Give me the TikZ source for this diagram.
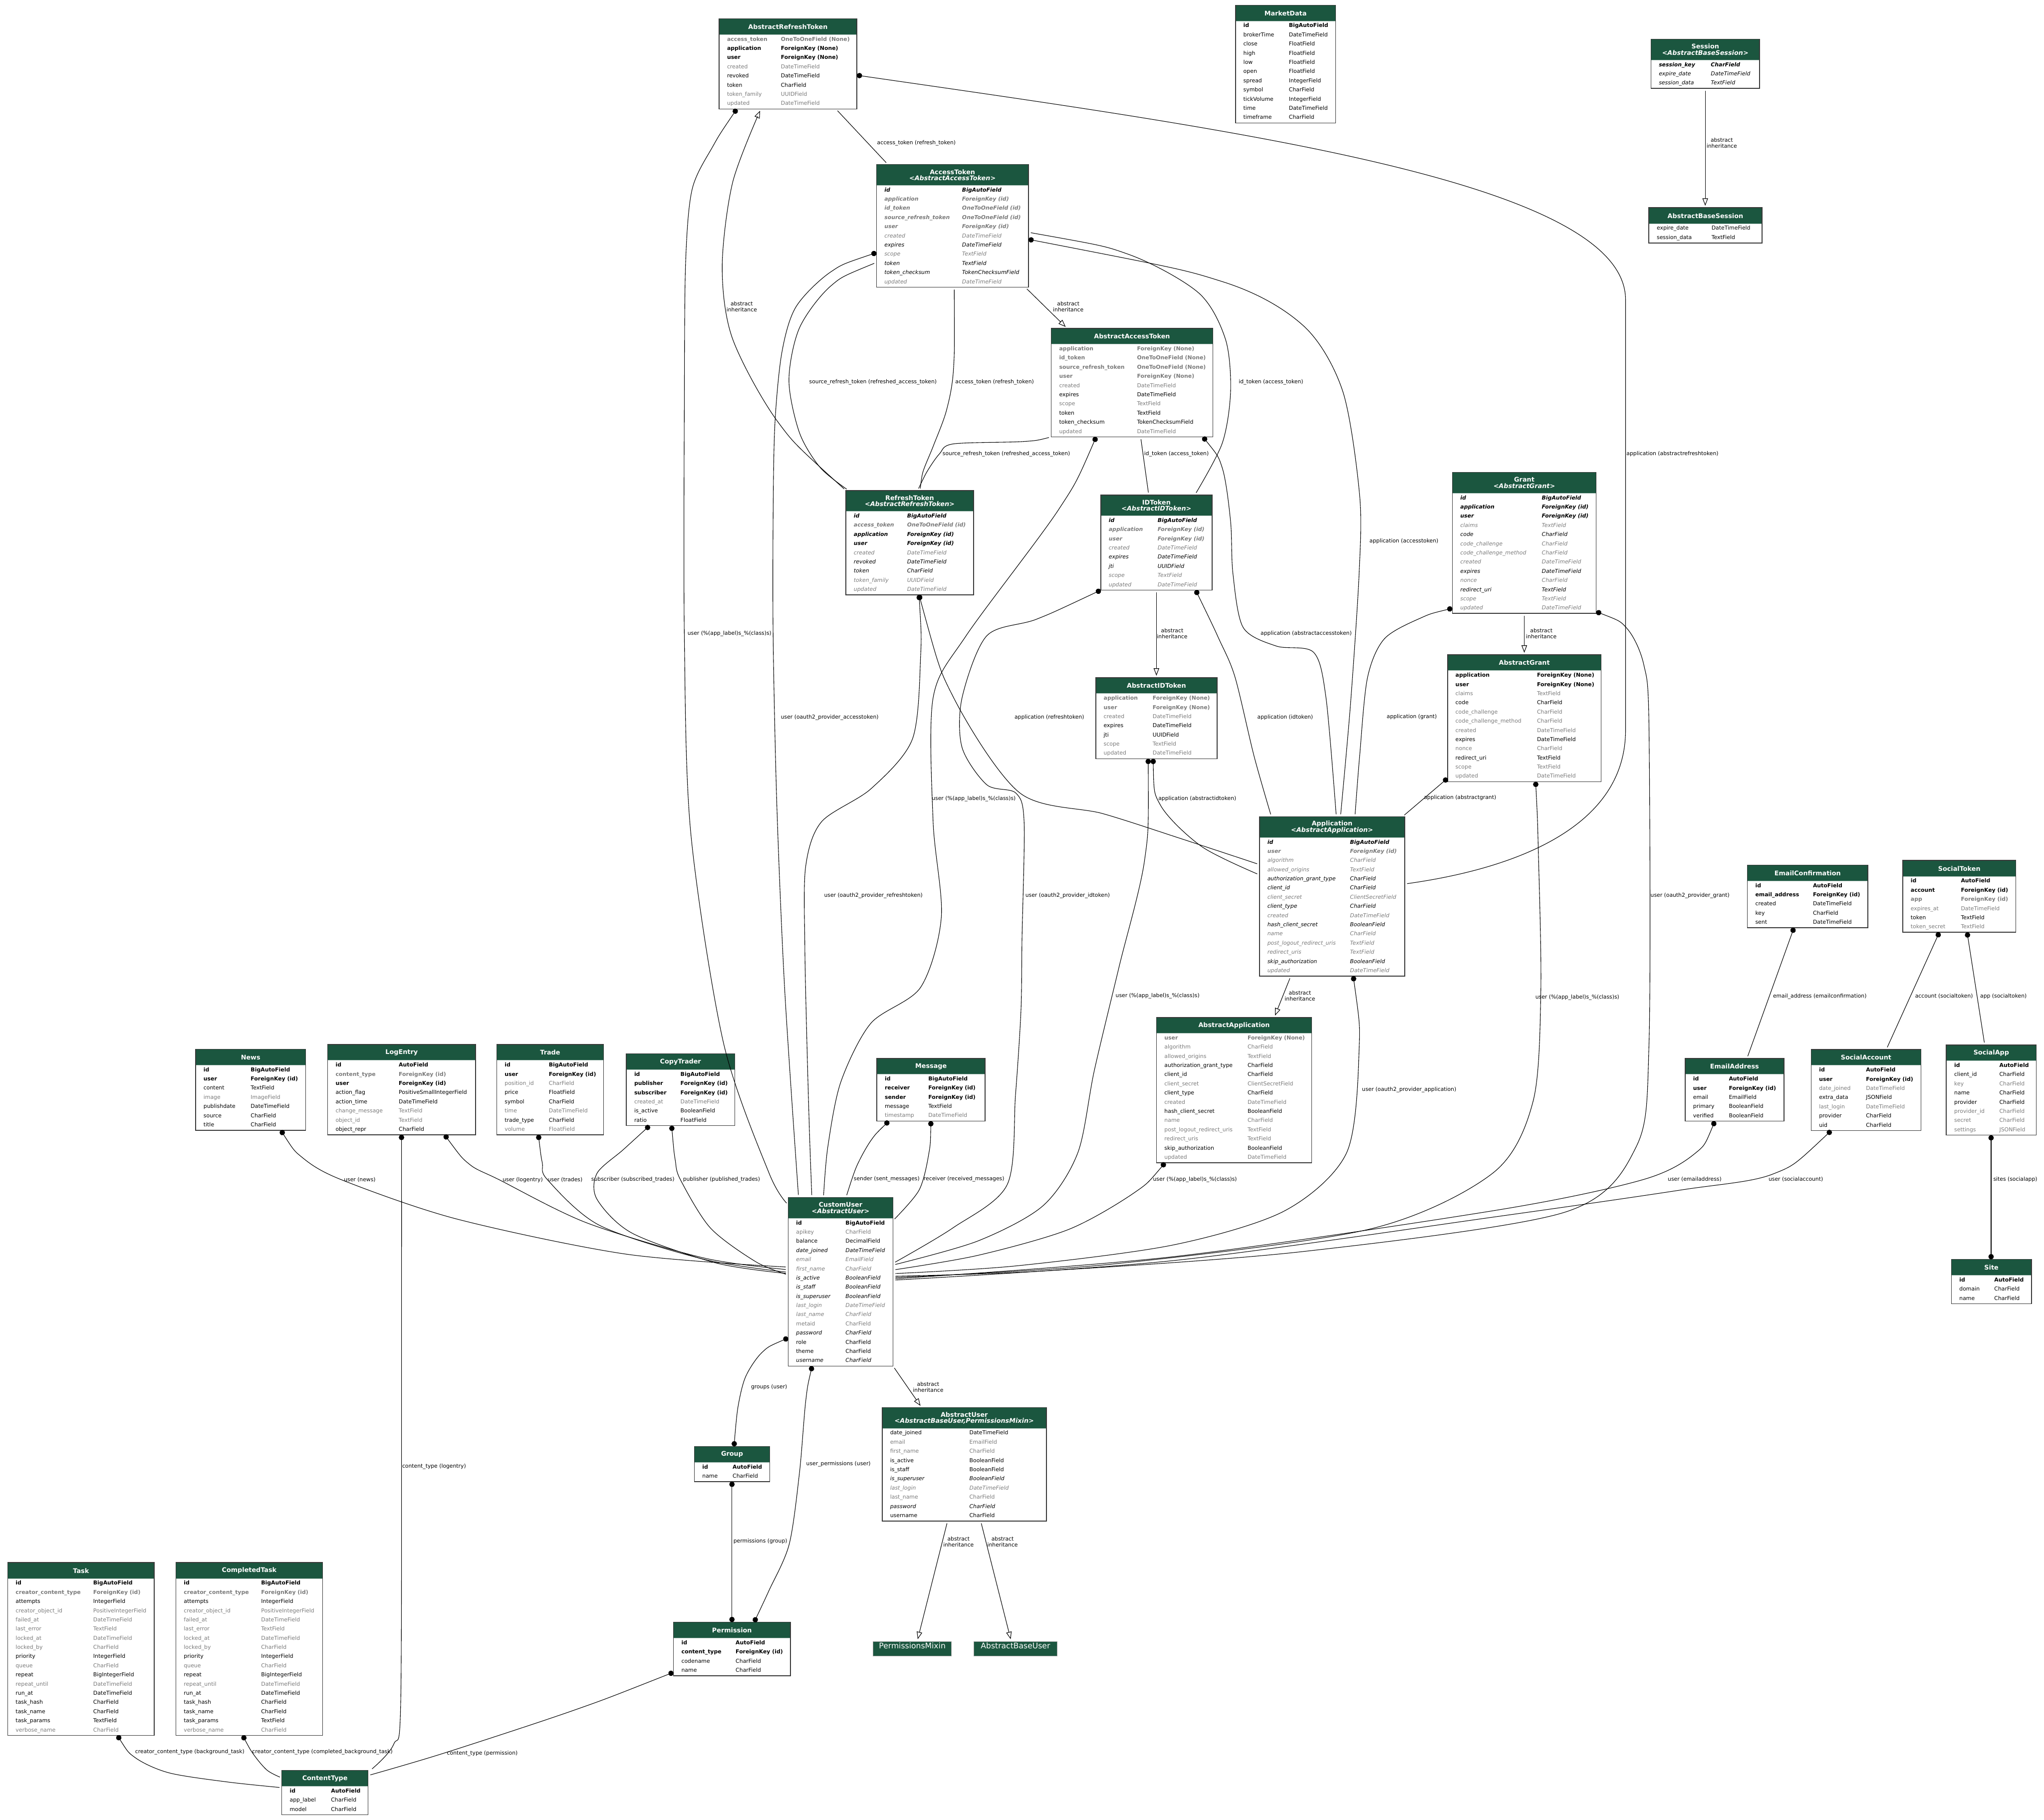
\documentclass[tikz,border=0pt]{standalone}
\usepackage{fontspec}
\setmainfont{DejaVu Sans}
\usetikzlibrary{arrows.meta,fit,calc}
\definecolor{hdr}{HTML}{1B563F}
\definecolor{fgray}{HTML}{7B7B7B}
\definecolor{tbord}{HTML}{383838}
\def\zfsn{}
\def\zfsb{\bfseries}
\def\zfsg{\color{fgray}}
\def\zfsgb{\color{fgray}\bfseries}
\def\zfsi{\itshape}
\def\zfsbi{\bfseries\itshape}
\def\zfsgi{\color{fgray}\itshape}
\def\zfsgbi{\color{fgray}\bfseries\itshape}
% #1 name, #2 L, #3 T, #4 R, #5 type column offset, #6 header height, #7 title, #8 rows
\newcommand\dbt[8]{%
  \pgfmathsetmacro\tHB{#3+#6}%
  \foreach \s/\f/\t [count=\k] in {#8}{\xdef\tN{\k}}%
  \pgfmathsetmacro\tB{\tHB+7.04*\tN+0.6}%
  \node[fit={(#2,#3) (#4,\tB)}, inner sep=0pt, fill=white] (#1) {};
  \fill[hdr] (#2,#3) rectangle (#4,\tHB);
  \draw[hdr!35!white, line width=0.4pt] (#2,\tHB) -- (#4,\tHB);
  \node[ttl] (#1-t) at ({(#2+#4)/2},{(#3+\tHB)/2}) {#7};
  \foreach \s/\f/\t [count=\k] in {#8}{%
    \node[fld] (#1-n\k) at ({#2+5.8},{\tHB-4.19+7.04*\k}) {\csname zfs\s\endcsname\f};
    \node[fld] (#1-y\k) at ({#2+#5},{\tHB-4.19+7.04*\k}) {\csname zfs\s\endcsname\t};
  }%
  \draw[tbord, line width=0.8pt] (#1.north west) rectangle (#1.south east);
}
\catcode`\_=12
\begin{document}
\begin{tikzpicture}[x=1.3066pt, y=-1.3066pt,
  fld/.style={inner sep=0pt, anchor=mid west, font=\fontsize{5.45}{6}\selectfont},
  ttl/.style={inner sep=0pt, text=white, align=center, font=\bfseries\fontsize{6.4}{6.3}\selectfont},
  elabel/.style={inner sep=0pt, align=center, font=\fontsize{5.4}{6}\selectfont},
  edge/.style={draw=black, line width=0.55pt, line join=round},
  fk/.style={edge, {Circle[length=5.4pt]}-, shorten >=2.4pt},
  oto/.style={edge, shorten <=2.4pt, shorten >=2.4pt},
  mtm/.style={edge, {Circle[length=5.4pt]}-{Circle[length=5.4pt]}},
  inh/.style={edge, -{Triangle[open, length=7.4pt, width=5.5pt]}, shorten <=2.4pt, shorten >=2pt},
  plain/.style={fit={#1}, inner sep=0pt, fill=hdr, draw=fgray!70, line width=0.5pt, text=white, font=\fontsize{7.8}{8}\selectfont}
]
\fill[white] (0,0) rectangle (1568,1396);
\useasboundingbox (0,0) rectangle (1568,1396);

%% ---------------- tables ----------------
\dbt{ART}{551.8}{14.5}{657.1}{47.1}{12}{AbstractRefreshToken}{%
gb/access_token/OneToOneField (None),%
b/application/ForeignKey (None),%
b/user/ForeignKey (None),%
g/created/DateTimeField,%
n/revoked/DateTimeField,%
n/token/CharField,%
g/token_family/UUIDField,%
g/updated/DateTimeField}

\dbt{AT}{672.5}{126.3}{788.8}{65.4}{15.8}{AccessToken\\\itshape <AbstractAccessToken>}{%
bi/id/BigAutoField,%
gbi/application/ForeignKey (id),%
gbi/id_token/OneToOneField (id),%
gbi/source_refresh_token/OneToOneField (id),%
gbi/user/ForeignKey (id),%
gi/created/DateTimeField,%
i/expires/DateTimeField,%
gi/scope/TextField,%
i/token/TextField,%
i/token_checksum/TokenChecksumField,%
gi/updated/DateTimeField}

\dbt{MD}{947.9}{4.1}{1024.4}{40.7}{12}{MarketData}{%
b/id/BigAutoField,%
n/brokerTime/DateTimeField,%
n/close/FloatField,%
n/high/FloatField,%
n/low/FloatField,%
n/open/FloatField,%
n/spread/IntegerField,%
n/symbol/CharField,%
n/tickVolume/IntegerField,%
n/time/DateTimeField,%
n/timeframe/CharField}

\dbt{Session}{1266.6}{30.2}{1349.7}{45.7}{15.8}{Session\\\itshape <AbstractBaseSession>}{%
bi/session_key/CharField,%
i/expire_date/DateTimeField,%
i/session_data/TextField}

\dbt{ABS}{1265.0}{159.5}{1351.5}{47.8}{12}{AbstractBaseSession}{%
n/expire_date/DateTimeField,%
n/session_data/TextField}

\dbt{AAT}{806.6}{252.0}{930.2}{65.5}{12}{AbstractAccessToken}{%
gb/application/ForeignKey (None),%
gb/id_token/OneToOneField (None),%
gb/source_refresh_token/OneToOneField (None),%
gb/user/ForeignKey (None),%
g/created/DateTimeField,%
n/expires/DateTimeField,%
g/scope/TextField,%
n/token/TextField,%
n/token_checksum/TokenChecksumField,%
g/updated/DateTimeField}

\dbt{RT}{649.0}{376.4}{746.7}{46.7}{15.8}{RefreshToken\\\itshape <AbstractRefreshToken>}{%
bi/id/BigAutoField,%
gbi/access_token/OneToOneField (id),%
bi/application/ForeignKey (id),%
bi/user/ForeignKey (id),%
gi/created/DateTimeField,%
i/revoked/DateTimeField,%
i/token/CharField,%
gi/token_family/UUIDField,%
gi/updated/DateTimeField}

\dbt{IDT}{844.6}{379.8}{929.6}{43.3}{15.8}{IDToken\\\itshape <AbstractIDToken>}{%
bi/id/BigAutoField,%
gbi/application/ForeignKey (id),%
gbi/user/ForeignKey (id),%
gi/created/DateTimeField,%
i/expires/DateTimeField,%
i/jti/UUIDField,%
gi/scope/TextField,%
gi/updated/DateTimeField}

\dbt{Grant}{1114.3}{362.5}{1224.3}{68.3}{15.8}{Grant\\\itshape <AbstractGrant>}{%
bi/id/BigAutoField,%
bi/application/ForeignKey (id),%
bi/user/ForeignKey (id),%
gi/claims/TextField,%
i/code/CharField,%
gi/code_challenge/CharField,%
gi/code_challenge_method/CharField,%
gi/created/DateTimeField,%
i/expires/DateTimeField,%
gi/nonce/CharField,%
i/redirect_uri/TextField,%
gi/scope/TextField,%
gi/updated/DateTimeField}

\dbt{AG}{1110.6}{502.4}{1228.1}{68.3}{12}{AbstractGrant}{%
b/application/ForeignKey (None),%
b/user/ForeignKey (None),%
g/claims/TextField,%
n/code/CharField,%
g/code_challenge/CharField,%
g/code_challenge_method/CharField,%
g/created/DateTimeField,%
n/expires/DateTimeField,%
g/nonce/CharField,%
n/redirect_uri/TextField,%
g/scope/TextField,%
g/updated/DateTimeField}

\dbt{AIT}{840.7}{520.0}{933.6}{43.4}{12}{AbstractIDToken}{%
gb/application/ForeignKey (None),%
gb/user/ForeignKey (None),%
g/created/DateTimeField,%
n/expires/DateTimeField,%
n/jti/UUIDField,%
g/scope/TextField,%
g/updated/DateTimeField}

\dbt{App}{966.3}{626.6}{1077.4}{69.2}{15.8}{Application\\\itshape <AbstractApplication>}{%
bi/id/BigAutoField,%
gbi/user/ForeignKey (id),%
gi/algorithm/CharField,%
gi/allowed_origins/TextField,%
i/authorization_grant_type/CharField,%
i/client_id/CharField,%
gi/client_secret/ClientSecretField,%
i/client_type/CharField,%
gi/created/DateTimeField,%
i/hash_client_secret/BooleanField,%
gi/name/CharField,%
gi/post_logout_redirect_uris/TextField,%
gi/redirect_uris/TextField,%
i/skip_authorization/BooleanField,%
gi/updated/DateTimeField}

\dbt{AA}{887.3}{780.6}{1006.1}{69.6}{12}{AbstractApplication}{%
gb/user/ForeignKey (None),%
g/algorithm/CharField,%
g/allowed_origins/TextField,%
n/authorization_grant_type/CharField,%
n/client_id/CharField,%
g/client_secret/ClientSecretField,%
n/client_type/CharField,%
g/created/DateTimeField,%
n/hash_client_secret/BooleanField,%
g/name/CharField,%
g/post_logout_redirect_uris/TextField,%
g/redirect_uris/TextField,%
n/skip_authorization/BooleanField,%
g/updated/DateTimeField}

\dbt{EC}{1340.6}{663.7}{1432.7}{50}{12}{EmailConfirmation}{%
b/id/AutoField,%
b/email_address/ForeignKey (id),%
n/created/DateTimeField,%
n/key/CharField,%
n/sent/DateTimeField}

\dbt{ST}{1459.8}{660.2}{1546.2}{44.3}{12}{SocialToken}{%
b/id/AutoField,%
b/account/ForeignKey (id),%
gb/app/ForeignKey (id),%
g/expires_at/DateTimeField,%
n/token/TextField,%
g/token_secret/TextField}

\dbt{EA}{1292.9}{812.1}{1368.3}{33.2}{12}{EmailAddress}{%
b/id/AutoField,%
b/user/ForeignKey (id),%
n/email/EmailField,%
n/primary/BooleanField,%
n/verified/BooleanField}

\dbt{SA}{1389.5}{805.2}{1473.5}{41.8}{12}{SocialAccount}{%
b/id/AutoField,%
b/user/ForeignKey (id),%
g/date_joined/DateTimeField,%
n/extra_data/JSONField,%
g/last_login/DateTimeField,%
n/provider/CharField,%
n/uid/CharField}

\dbt{SP}{1493.2}{801.7}{1561.9}{40.4}{12}{SocialApp}{%
b/id/AutoField,%
n/client_id/CharField,%
g/key/CharField,%
n/name/CharField,%
n/provider/CharField,%
g/provider_id/CharField,%
g/secret/CharField,%
g/settings/JSONField}

\dbt{Site}{1497.1}{966.2}{1558.2}{32.6}{12}{Site}{%
b/id/AutoField,%
n/domain/CharField,%
n/name/CharField}

\dbt{News}{150.2}{805.0}{234.3}{42}{12}{News}{%
b/id/BigAutoField,%
b/user/ForeignKey (id),%
n/content/TextField,%
g/image/ImageField,%
n/publishdate/DateTimeField,%
n/source/CharField,%
n/title/CharField}

\dbt{LE}{251.5}{801.4}{364.7}{54.3}{12}{LogEntry}{%
b/id/AutoField,%
gb/content_type/ForeignKey (id),%
b/user/ForeignKey (id),%
n/action_flag/PositiveSmallIntegerField,%
n/action_time/DateTimeField,%
g/change_message/TextField,%
g/object_id/TextField,%
n/object_repr/CharField}

\dbt{Trade}{381.2}{801.4}{462.9}{39.7}{12}{Trade}{%
b/id/BigAutoField,%
b/user/ForeignKey (id),%
g/position_id/CharField,%
n/price/FloatField,%
n/symbol/CharField,%
g/time/DateTimeField,%
n/trade_type/CharField,%
g/volume/FloatField}

\dbt{CT}{480.6}{808.5}{563.5}{41.3}{12}{CopyTrader}{%
b/id/BigAutoField,%
b/publisher/ForeignKey (id),%
b/subscriber/ForeignKey (id),%
g/created_at/DateTimeField,%
n/is_active/BooleanField,%
n/ratio/FloatField}

\dbt{Msg}{672.8}{812.0}{755.6}{39.2}{12}{Message}{%
b/id/BigAutoField,%
b/receiver/ForeignKey (id),%
b/sender/ForeignKey (id),%
n/message/TextField,%
g/timestamp/DateTimeField}

\dbt{CU}{604.8}{918.7}{684.9}{43.7}{15.8}{CustomUser\\\itshape <AbstractUser>}{%
b/id/BigAutoField,%
g/apikey/CharField,%
n/balance/DecimalField,%
i/date_joined/DateTimeField,%
gi/email/EmailField,%
gi/first_name/CharField,%
i/is_active/BooleanField,%
i/is_staff/BooleanField,%
i/is_superuser/BooleanField,%
gi/last_login/DateTimeField,%
gi/last_name/CharField,%
g/metaid/CharField,%
i/password/CharField,%
n/role/CharField,%
n/theme/CharField,%
i/username/CharField}

\dbt{AU}{676.9}{1079.8}{802.5}{66.6}{15.8}{AbstractUser\\\itshape <AbstractBaseUser,PermissionsMixin>}{%
n/date_joined/DateTimeField,%
g/email/EmailField,%
g/first_name/CharField,%
n/is_active/BooleanField,%
n/is_staff/BooleanField,%
i/is_superuser/BooleanField,%
gi/last_login/DateTimeField,%
g/last_name/CharField,%
i/password/CharField,%
n/username/CharField}

\dbt{Grp}{532.8}{1109.7}{590.4}{29.1}{12}{Group}{%
b/id/AutoField,%
n/name/CharField}

\dbt{Perm}{516.8}{1244.5}{606.2}{47.4}{12}{Permission}{%
b/id/AutoField,%
b/content_type/ForeignKey (id),%
n/codename/CharField,%
n/name/CharField}

\node[plain={(669.9,1259.1) (729.8,1270.3)}] (PM) {PermissionsMixin};
\node[plain={(747.2,1259.1) (810.8,1270.3)}] (ABU) {AbstractBaseUser};

\dbt{Task}{6.1}{1198.8}{118.2}{65.3}{12}{Task}{%
b/id/BigAutoField,%
gb/creator_content_type/ForeignKey (id),%
n/attempts/IntegerField,%
g/creator_object_id/PositiveIntegerField,%
g/failed_at/DateTimeField,%
g/last_error/TextField,%
g/locked_at/DateTimeField,%
g/locked_by/CharField,%
n/priority/IntegerField,%
g/queue/CharField,%
n/repeat/BigIntegerField,%
g/repeat_until/DateTimeField,%
n/run_at/DateTimeField,%
n/task_hash/CharField,%
n/task_name/CharField,%
n/task_params/TextField,%
g/verbose_name/CharField}

\dbt{CTask}{135.1}{1198.8}{247.3}{65.1}{12}{CompletedTask}{%
b/id/BigAutoField,%
gb/creator_content_type/ForeignKey (id),%
n/attempts/IntegerField,%
g/creator_object_id/PositiveIntegerField,%
g/failed_at/DateTimeField,%
g/last_error/TextField,%
g/locked_at/DateTimeField,%
g/locked_by/CharField,%
n/priority/IntegerField,%
g/queue/CharField,%
n/repeat/BigIntegerField,%
g/repeat_until/DateTimeField,%
n/run_at/DateTimeField,%
n/task_hash/CharField,%
n/task_name/CharField,%
n/task_params/TextField,%
g/verbose_name/CharField}

\dbt{CType}{216.3}{1358.2}{282.2}{37.5}{12}{ContentType}{%
b/id/AutoField,%
n/app_label/CharField,%
n/model/CharField}

%% ---------------- connectors ----------------
\draw[oto] (641.2,0 |- ART.south) -- (681.1,0 |- AT.north);
\draw[fk] (ART.east |- 0,57.7) .. controls (950,100) and (1247,140) .. (1247,230) -- (1247,560) .. controls (1247,640) and (1150,668) .. (App.east |- 0,678.1);
\draw[fk] plot[smooth, tension=0.5] coordinates {(565.2,0 |- ART.south) (547,112) (531,145) (526,200) (525,300) (525,490) (530,640) (555,800) (590,900) (CU.west |- 0,924)};
\draw[inh] plot[smooth, tension=0.5] coordinates {(RT.north west) (597,324) (562,260) (554,205) (562,140) (583.7,0 |- ART.south)};
\draw[oto] plot[smooth, tension=0.5] coordinates {(AT.west |- 0,201.3) (637.4,219.3) (613.3,251.5) (605.2,291.7) (613.3,332) (629.4,358.9) (651,0 |- RT.north)};
\draw[fk] plot[smooth, tension=0.5] coordinates {(AT.west |- 0,193.8) (637.4,208.5) (610.6,235.4) (599.8,270.3) (594.5,324) (593.1,391) (593.1,490) (596,620) (602,760) (612.6,0 |- CU.north)};
\draw[oto] plot[smooth, tension=0.5] coordinates {(732,0 |- AT.south) (731.4,283.7) (726,315) (716,342) (708,362) (705.9,0 |- RT.north)};
\draw[oto] plot[smooth, tension=0.5] coordinates {(AAT.south west) (785,338.7) (731.4,340.5) (720.7,348.1) (711,362) (704,0 |- RT.north)};
\draw[inh] (786.4,0 |- AT.south) -- (818.6,0 |- AAT.north);
\draw[oto] plot[smooth, tension=0.5] coordinates {(AT.east |- 0,178.2) (865.7,195.1) (919.4,224.6) (940,260) (944,300) (937.6,340) (916.6,0 |- IDT.north)};
\draw[fk] plot[smooth, tension=0.5] coordinates {(AT.east |- 0,183.6) (937.6,216) (1000,250) (1030,300) (1043,380) (1042.6,440) (1036,540) (1028.3,0 |- App.north)};
\draw[oto] (875,0 |- AAT.south) -- (881.2,0 |- IDT.north);
\draw[fk] plot[smooth, tension=0.5] coordinates {(922.8,0 |- AAT.south) (937.6,358.9) (944,400) (945.8,440) (953.7,481.4) (979.1,495.6) (1007.7,500.4) (1017.2,535.3) (1025.1,0 |- App.north)};
\draw[fk] plot[smooth, tension=0.5] coordinates {(840.9,0 |- AAT.south) (812,391) (741.1,487.7) (715.8,535.3) (715.8,630.5) (722.1,703.5) (706.2,757.4) (668,785) (645,830) (635,880) (631.7,0 |- CU.north)};
\draw[inh] (887.1,0 |- IDT.south) -- (887.1,0 |- AIT.north);
\draw[fk] plot[smooth, tension=0.5] coordinates {(917.2,0 |- IDT.south) (935,490) (947.4,519.4) (962,580) (975.3,0 |- App.north)};
\draw[fk] plot[smooth, tension=0.5] coordinates {(IDT.south west) (795.1,475) (757,487.7) (738,535.3) (738,573.4) (757,602) (779.2,608.3) (785.6,630.5) (784,720) (783.2,775) (779,840) (772.7,908.6) (731,941.9) (CU.east |- 0,969.1)};
\draw[fk] plot[smooth, tension=0.5] coordinates {(705,0 |- RT.south) (731.6,535.3) (782.4,608.3) (845.9,624.1) (905,643) (App.west |- 0,663.2)};
\draw[fk] plot[smooth, tension=0.5] coordinates {(705,0 |- RT.south) (706.2,503.6) (699.9,567) (668.2,605) (630.1,630.5) (618,665) (617.4,725.7) (619,800) (621,870) (622.8,0 |- CU.north)};
\draw[fk] plot[smooth, tension=0.5] coordinates {(884.6,0 |- AIT.south) (890.3,617.8) (922,649.5) (App.west |- 0,671.1)};
\draw[fk] plot[smooth, tension=0.5] coordinates {(880.8,0 |- AIT.south) (878,660) (858.5,741.5) (839.5,821) (826.8,884.3) (800,925) (750,952) (CU.east |- 0,970.4)};
\draw[inh] (990.2,0 |- App.south) -- (977.5,0 |- AA.north);
\draw[fk] plot[smooth, tension=0.5] coordinates {(1038.1,0 |- App.south) (1042.6,805) (1033,884.3) (985.5,928.8) (900,955) (780,971) (CU.east |- 0,977)};
\draw[fk] plot[smooth, tension=0.5] coordinates {(893.8,0 |- AA.south) (870,915) (820,943) (750,963) (CU.east |- 0,974.2)};
\draw[inh] (1169.3,0 |- Grant.south) -- (1169.3,0 |- AG.north);
\draw[fk] plot[smooth, tension=0.5] coordinates {(Grant.west |- 0,466.6) (1090,474) (1062,490) (1049,520) (1043,580) (1039.4,0 |- App.north)};
\draw[fk] plot[smooth, tension=0.5] coordinates {(Grant.east |- 0,469.2) (1248,482) (1261,510) (1265,560) (1265,800) (1255,880) (1200,930) (1000,960) (800,975) (CU.east |- 0,979)};
\draw[fk] (AG.west |- 0,597) -- (1075.9,0 |- App.north);
\draw[fk] plot[smooth, tension=0.5] coordinates {(1178,0 |- AG.south) (1180,650) (1182,760) (1176,845) (1145,900) (1050,943) (850,970) (CU.east |- 0,980)};
\draw[fk] plot[smooth, tension=0.5] coordinates {(1315.5,0 |- EA.south) (1300,885) (1260,905) (1150,928) (900,964) (CU.east |- 0,981)};
\draw[fk] plot[smooth, tension=0.5] coordinates {(1404.8,0 |- SA.south) (1360,900.6) (1289.7,912.8) (1150,933) (900,967) (CU.east |- 0,982)};
\draw[fk] (1376.2,0 |- EC.south) -- (1340.1,0 |- EA.north);
\draw[fk] (1487.7,0 |- ST.south) -- (1447,0 |- SA.north);
\draw[fk] (1509,0 |- ST.south) -- (1522.5,0 |- SP.north);
\draw[mtm] (1527.4,0 |- SP.south) -- (1527.4,0 |- Site.north);
\draw[inh] (1308.1,0 |- Session.south) -- (1308.1,0 |- ABS.north);
\draw[fk] plot[smooth, tension=0.5] coordinates {(215.4,0 |- News.south) (232,888) (262,905) (350,935) (480,962) (CU.west |- 0,972)};
\draw[fk] plot[smooth, tension=0.5] coordinates {(341,0 |- LE.south) (360,893) (383,905) (450,938) (540,965) (CU.west |- 0,974)};
\draw[fk] plot[smooth, tension=0.5] coordinates {(413,0 |- Trade.south) (416,892) (420,905) (460,940) (540,966) (CU.west |- 0,976)};
\draw[fk] plot[smooth, tension=0.5] coordinates {(498.3,0 |- CT.south) (478,882) (458,900) (458,920) (485,946) (550,969) (CU.west |- 0,977)};
\draw[fk] plot[smooth, tension=0.5] coordinates {(515.2,0 |- CT.south) (518,890) (522,905) (545,942) (580,968) (CU.west |- 0,978)};
\draw[fk] plot[smooth, tension=0.5] coordinates {(681.8,0 |- Msg.south) (668,875) (657,895) (649,0 |- CU.north)};
\draw[fk] plot[smooth, tension=0.5] coordinates {(714.1,0 |- Msg.south) (712.5,885) (705,913) (CU.east |- 0,936.3)};
\draw[mtm] plot[smooth, tension=0.5] coordinates {(CU.west |- 0,1026.3) (585,1037) (572,1056) (566,1080) (563.1,0 |- Grp.north)};
\draw[mtm] plot[smooth, tension=0.5] coordinates {(623,0 |- CU.south) (618.1,1074.6) (613.3,1129.6) (605.4,1184.6) (589.8,1220.3) (578.5,0 |- Perm.north)};
\draw[mtm] (561.5,0 |- Grp.south) -- (561.5,0 |- Perm.north);
\draw[inh] (CU.south east) -- (707,0 |- AU.north);
\draw[inh] (726.9,0 |- AU.south) -- (703.6,0 |- PM.north);
\draw[inh] (752.3,0 |- AU.south) -- (775.7,0 |- ABU.north);
\draw[fk] plot[smooth, tension=0.5] coordinates {(308,0 |- LE.south) (308,1000) (307.5,1300) (302,1338) (284,0 |- CType.north)};
\draw[fk] plot[smooth, tension=0.5] coordinates {(Perm.west |- 0,1282.8) (440,1312) (340,1345) (CType.east |- 0,1362)};
\draw[fk] plot[smooth, tension=0.5] coordinates {(90,0 |- Task.south) (103.9,1348.4) (129.9,1360) (175,1367) (CType.west |- 0,1371.3)};
\draw[fk] plot[smooth, tension=0.5] coordinates {(186.1,0 |- CTask.south) (194.6,1345.9) (205,1358) (CType.west |- 0,1363.8)};

%% ---------------- connector labels ----------------
\node[elabel] (lb1) at (703,109.9) {access_token (refresh_token)};
\node[elabel] (lb2) at (569,235.4) {abstract\\inheritance};
\node[elabel] (lb3) at (669.7,293.1) {source_refresh_token (refreshed_access_token)};
\node[elabel] (lb4) at (763,293.1) {access_token (refresh_token)};
\node[elabel] (lb5) at (819.5,235.4) {abstract\\inheritance};
\node[elabel] (lb6) at (975,293) {id_token (access_token)};
\node[elabel] (lb7) at (772,348.1) {source_refresh_token (refreshed_access_token)};
\node[elabel] (lb8) at (902.5,348.1) {id_token (access_token)};
\node[elabel] (lb9) at (1283,348) {application (abstractrefreshtoken)};
\node[elabel] (lb10) at (559.6,485.9) {user (\%(app_label)s_\%(class)s)};
\node[elabel] (lb11) at (636.5,550.2) {user (oauth2_provider_accesstoken)};
\node[elabel] (lb12) at (1077,415) {application (accesstoken)};
\node[elabel] (lb13) at (1002,486.1) {application (abstractaccesstoken)};
\node[elabel] (lb14) at (899.2,486.1) {abstract\\inheritance};
\node[elabel] (lb15) at (1182.4,486) {abstract\\inheritance};
\node[elabel] (lb16) at (805,550.2) {application (refreshtoken)};
\node[elabel] (lb17) at (985.9,550.2) {application (idtoken)};
\node[elabel] (lb18) at (1083,550) {application (grant)};
\node[elabel] (lb19) at (918.5,612.7) {application (abstractidtoken)};
\node[elabel] (lb20) at (1120,612) {application (abstractgrant)};
\node[elabel] (lb21) at (747,612.7) {user (\%(app_label)s_\%(class)s)};
\node[elabel] (lb22) at (670,687) {user (oauth2_provider_refreshtoken)};
\node[elabel] (lb23) at (819,687) {user (oauth2_provider_idtoken)};
\node[elabel] (lb24) at (888,764.1) {user (\%(app_label)s_\%(class)s)};
\node[elabel] (lb25) at (1296.5,687) {user (oauth2_provider_grant)};
\node[elabel] (lb26) at (1210,765) {user (\%(app_label)s_\%(class)s)};
\node[elabel] (lb27) at (997.2,763.8) {abstract\\inheritance};
\node[elabel] (lb28) at (1081,835.8) {user (oauth2_provider_application)};
\node[elabel] (lb29) at (1396,764.2) {email_address (emailconfirmation)};
\node[elabel] (lb30) at (1491.3,764.2) {account (socialtoken)};
\node[elabel] (lb31) at (1536.9,764.2) {app (socialtoken)};
\node[elabel] (lb32) at (276,905) {user (news)};
\node[elabel] (lb33) at (401,905) {user (logentry)};
\node[elabel] (lb34) at (433.5,905) {user (trades)};
\node[elabel] (lb35) at (485.5,905) {subscriber (subscribed_trades)};
\node[elabel] (lb36) at (553.5,905) {publisher (published_trades)};
\node[elabel] (lb37) at (680.2,904.6) {sender (sent_messages)};
\node[elabel] (lb38) at (739.5,904.6) {receiver (received_messages)};
\node[elabel] (lb39) at (916.7,905) {user (\%(app_label)s_\%(class)s)};
\node[elabel] (lb40) at (1300,904.6) {user (emailaddress)};
\node[elabel] (lb41) at (1377.6,904.6) {user (socialaccount)};
\node[elabel] (lb42) at (1546,904.6) {sites (socialapp)};
\node[elabel] (lb43) at (333,1125) {content_type (logentry)};
\node[elabel] (lb44) at (590,1064) {groups (user)};
\node[elabel] (lb45) at (712,1064) {abstract\\inheritance};
\node[elabel] (lb46) at (643.2,1123) {user_permissions (user)};
\node[elabel] (lb47) at (583.3,1182.2) {permissions (group)};
\node[elabel] (lb48) at (735.3,1182.5) {abstract\\inheritance};
\node[elabel] (lb49) at (769.1,1182.5) {abstract\\inheritance};
\node[elabel] (lb50) at (145.6,1344.1) {creator_content_type (background_task)};
\node[elabel, anchor=west] (lb51) at (193.3,1344.1) {creator_content_type (completed_background_task)};
\node[elabel] (lb52) at (370,1345) {content_type (permission)};
\node[elabel] (lb53) at (1320.8,109.7) {abstract\\inheritance};
\end{tikzpicture}
\end{document}
